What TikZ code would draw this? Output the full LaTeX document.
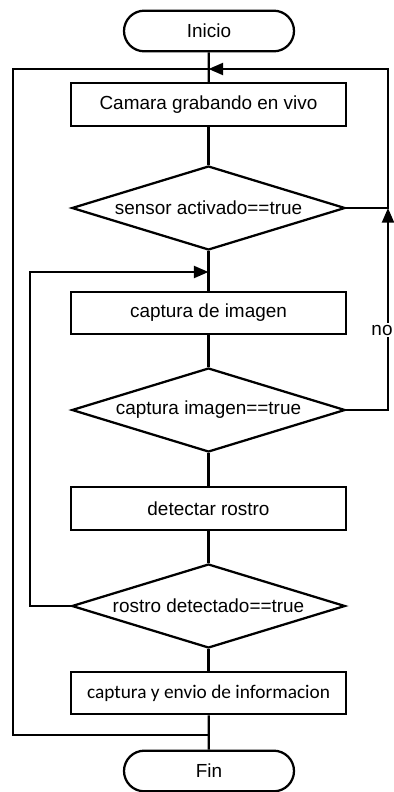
\documentclass[tikz,border=0pt]{standalone}
\usepackage{fontspec}
\setmainfont{Liberation Sans}
\newfontfamily\carlito{Carlito}
\usetikzlibrary{shapes.geometric,shapes.misc,arrows.meta}

\begin{document}
\begin{tikzpicture}[x=0.75pt,y=-0.75pt,
  line width=1.7pt,
  every node/.style={font=\fontsize{14.2}{16}\selectfont},
  procbox/.style={draw, rectangle, minimum width=206.25pt, minimum height=32pt, inner sep=0pt},
  decision/.style={draw, diamond, aspect=3.25, minimum width=205pt, minimum height=63pt, inner sep=0pt},
  terminal/.style={draw, rounded rectangle, minimum width=127.5pt, minimum height=30.5pt, inner sep=0pt},
  arr/.style={-{Triangle[length=11pt,width=9pt]}}
]
\useasboundingbox (0,0) rectangle (393,792);

% flow blocks
\node[terminal] (inicio) at (209,31) {Inicio};
\node[procbox]  (cam)    at (208.5,104.5) {Camara grabando en vivo};
\node[decision] (sensor) at (208.5,208) {sensor activado==true};
\node[procbox]  (capt)   at (208.5,313) {captura de imagen};
\node[decision] (capok)  at (208.5,410) {captura imagen==true};
\node[procbox]  (detect) at (208.5,508.5) {detectar rostro};
\node[decision] (rostro) at (208.5,606) {rostro detectado==true};
\node[procbox]  (envio)  at (208.5,693) {\carlito\fontsize{14.5}{16}\selectfont captura y envio de informacion};
\node[terminal] (fin)    at (209,771) {Fin};

% junction points of the loops
\coordinate (topj)   at (208.5,69);
\coordinate (rightj) at (388,208);
\coordinate (innerj) at (208.5,272);
\coordinate (botj)   at (208.5,735);

% main line
\draw (inicio) -- (cam);
\draw (cam) -- (sensor);
\draw (sensor) -- (capt);
\draw (capt) -- (capok);
\draw (capok) -- (detect);
\draw (detect) -- (rostro);
\draw (rostro) -- (envio);
\draw (envio) -- (fin);

% "no" branch back to the camera
\draw[arr] (capok.east) -| (rightj);
\draw[arr] (sensor.east) -- (rightj) |- (topj);
\node[fill=white, inner sep=1pt] (no) at (382,330) {no};

% face not detected: capture again
\draw[arr] (rostro.west) -| (30,272) -- (innerj);

% after sending: back to the start
\draw (botj) -| (13,69) -- (topj);
\end{tikzpicture}
\end{document}
